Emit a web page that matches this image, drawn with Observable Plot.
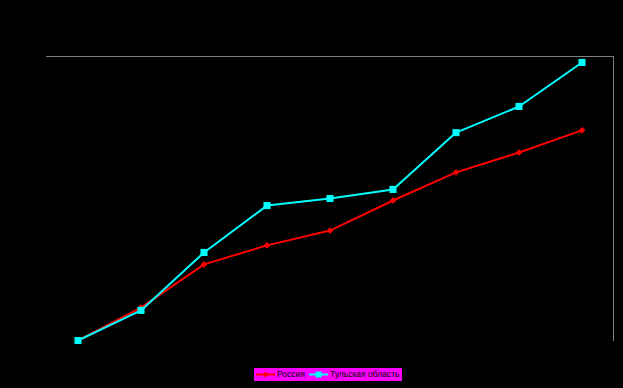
<!DOCTYPE html>
<html><head><meta charset="utf-8">
<script src="https://cdn.jsdelivr.net/npm/d3@7"></script>
<script src="https://cdn.jsdelivr.net/npm/@observablehq/plot@0.6"></script>
<style>
html,body{margin:0;padding:0;background:#000;}
#wrap{position:relative;width:623px;height:388px;overflow:hidden;}
#legend{position:absolute;left:254px;top:368px;width:148px;height:13px;background:#ff00ff;font-family:"Liberation Sans",Arial,sans-serif;font-size:8.5px;color:#000;line-height:13px;white-space:nowrap;}
#legend span{position:absolute;top:0;}
#legend svg{position:absolute;top:0;}
</style></head>
<body><div id="wrap"><div id="chart"></div><div id="legend"></div></div>
<script>
const categories = ["2000","2001","2002","2003","2004","2005","2006","2007","2008"];
const seriesNames = ["Россия","Тульская область"];
const russia = [100, 111.6, 126.8, 133.5, 138.7, 149.3, 159.2, 166.2, 174.0];
const tula   = [100, 110.6, 131.0, 147.5, 150.0, 153.2, 173.2, 182.4, 197.9];
const colors = ["#ff0000","#00ffff"];

const rows = [];
categories.forEach((c,i)=>{ rows.push({cat:c, s:seriesNames[0], v:russia[i]}); });
categories.forEach((c,i)=>{ rows.push({cat:c, s:seriesNames[1], v:tula[i]}); });
const r = rows.filter(d=>d.s===seriesNames[0]);
const t = rows.filter(d=>d.s===seriesNames[1]);

const chart = Plot.plot({
  width: 623, height: 362,
  marginLeft: 46, marginRight: 10, marginTop: 56, marginBottom: 22,
  style: {background: "#000"},
  x: {type: "band", domain: categories, axis: null, padding: 0, round: false},
  y: {domain: [100, 200], axis: null},
  marks: [
    Plot.frame({anchor: "top", stroke: "#808080", strokeWidth: 1}),
    Plot.frame({anchor: "right", stroke: "#808080", strokeWidth: 1}),
    Plot.line(r, {x: "cat", y: "v", stroke: colors[0], strokeWidth: 2}),
    Plot.dot(r, {x: "cat", y: "v", symbol: "diamond2", r: 3, fill: colors[0], stroke: "none"}),
    Plot.line(t, {x: "cat", y: "v", stroke: colors[1], strokeWidth: 2}),
    Plot.dot(t, {x: "cat", y: "v", symbol: "square", r: 4, fill: colors[1], stroke: "none"})
  ]
});
document.getElementById("chart").appendChild(chart);

const lg = document.getElementById("legend");
lg.innerHTML =
  `<svg width="20" height="13" style="left:2px"><line x1="0" y1="6.5" x2="19" y2="6.5" stroke="${colors[0]}" stroke-width="2"/><path d="M9.5,3.5L12.5,6.5L9.5,9.5L6.5,6.5Z" fill="${colors[0]}"/></svg>` +
  `<span style="left:23px">${seriesNames[0]}</span>` +
  `<svg width="20" height="13" style="left:55px"><line x1="0" y1="6.5" x2="19" y2="6.5" stroke="${colors[1]}" stroke-width="2"/><rect x="6.5" y="3.5" width="6" height="6" fill="${colors[1]}"/></svg>` +
  `<span style="left:76px">${seriesNames[1]}</span>`;
</script>
</body></html>
